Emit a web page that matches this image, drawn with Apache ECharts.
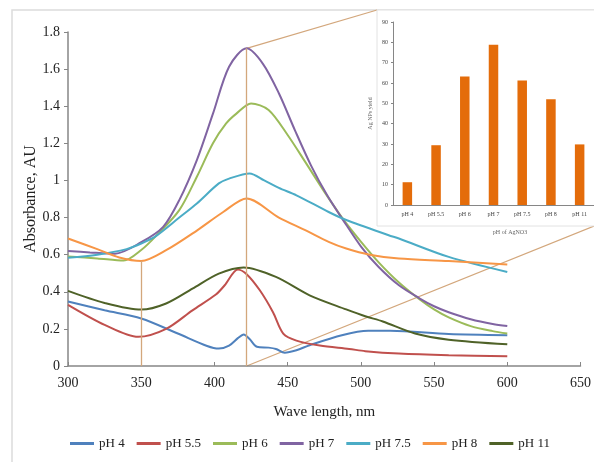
<!DOCTYPE html>
<html>
<head>
<meta charset="utf-8">
<script src="https://cdn.jsdelivr.net/npm/echarts@6/dist/echarts.min.js"></script>
<style>
  html, body { margin: 0; padding: 0; background: #fff; }
  #chart { width: 594px; height: 462px; }
</style>
</head>
<body>
<div id="chart"></div>
<script>
// absorbance spectra, [wavelength nm, absorbance AU]
const ph4 = [[300,0.348],[325,0.30],[350,0.256],[375,0.175],[395,0.108],[403,0.094],[410,0.11],[416,0.15],[420,0.17],[424,0.145],[429,0.104],[437,0.099],[442,0.092],[448,0.072],[456,0.085],[465,0.112],[487,0.166],[505,0.19],[520,0.19],[560,0.172],[600,0.166]]
const ph55 = [[300,0.33],[325,0.222],[348,0.157],[367,0.20],[385,0.30],[401,0.385],[407,0.435],[416,0.52],[422,0.495],[431,0.408],[440,0.29],[447,0.175],[456,0.137],[472,0.11],[492,0.092],[503,0.08],[526,0.067],[560,0.058],[600,0.052]]
const ph6 = [[300,0.59],[320,0.58],[338,0.568],[350,0.625],[360,0.70],[376,0.84],[388,1.02],[399,1.2],[408,1.307],[415,1.36],[425,1.415],[437,1.38],[450,1.245],[462,1.1],[475,0.94],[488,0.79],[500,0.67],[512,0.56],[526,0.45],[540,0.36],[550,0.305],[560,0.262],[575,0.215],[590,0.188],[600,0.175]]
const ph7 = [[300,0.62],[315,0.612],[332,0.605],[350,0.667],[365,0.75],[376,0.894],[388,1.11],[399,1.36],[410,1.613],[422,1.712],[433,1.63],[444,1.47],[455,1.27],[466,1.08],[477,0.92],[488,0.785],[500,0.645],[512,0.535],[526,0.435],[540,0.365],[550,0.322],[560,0.29],[575,0.252],[590,0.226],[600,0.215]]
const ph75 = [[300,0.583],[320,0.60],[340,0.63],[350,0.66],[360,0.70],[376,0.80],[388,0.876],[403,0.984],[410,1.01],[424,1.038],[434,1.0],[444,0.96],[456,0.92],[478,0.83],[490,0.787],[519,0.705],[526,0.687],[560,0.588],[600,0.507]]
const ph8 = [[300,0.687],[320,0.63],[335,0.585],[350,0.566],[367,0.624],[388,0.73],[406,0.83],[422,0.903],[444,0.80],[462,0.732],[478,0.669],[490,0.633],[506,0.60],[526,0.579],[560,0.566],[600,0.547]]
const ph11 = [[300,0.405],[325,0.34],[350,0.304],[367,0.337],[385,0.417],[403,0.498],[420,0.531],[442,0.48],[465,0.381],[490,0.305],[503,0.268],[515,0.24],[537,0.175],[560,0.142],[600,0.117]]

const seriesNames = ['pH 4', 'pH 5.5', 'pH 6', 'pH 7', 'pH 7.5', 'pH 8', 'pH 11']
const colors = ['#4f81bd', '#c0504d', '#9bbb59', '#8064a2', '#4bacc6', '#f79646', '#4f6228']
const spectra = [ph4, ph55, ph6, ph7, ph75, ph8, ph11]

// inset: yield per pH
const insetCats = ['pH 4', 'pH 5.5', 'pH 6', 'pH 7', 'pH 7.5', 'pH 8', 'pH 11']
const insetYield = [11.2, 29.4, 63.2, 78.8, 61.2, 52, 29.8]

const serif = 'Liberation Serif, Times New Roman, serif'
const tan = '#d3a77c'

const chart = echarts.init(document.getElementById('chart'))

// guide lines: at pH 8 minimum (350 nm) and at pH 7 peak
const at350 = ph8.find(p => p[0] === 350)
const peak = ph7.reduce((a, b) => (b[1] > a[1] ? b : a))

const lines = spectra.map((d, i) => ({
  name: seriesNames[i], type: 'line', data: d, smooth: 0.3,
  showSymbol: false, symbol: 'none', xAxisIndex: 0, yAxisIndex: 0,
  lineStyle: { color: colors[i], width: 2 }, itemStyle: { color: colors[i] },
  z: 3
}))

chart.setOption({
  animation: false,
  textStyle: { fontFamily: serif },
  grid: [
    { left: 68, right: 12, top: 32, bottom: 96 },
    { left: 393, right: 0, top: 22, bottom: 257 }
  ],
  legend: {
    data: seriesNames, left: 65, top: 432, width: 540, icon: 'rect',
    itemWidth: 24, itemHeight: 3, itemGap: 12,
    textStyle: { fontFamily: serif, fontSize: 13, color: '#222' }
  },
  xAxis: [
    {
      type: 'value', gridIndex: 0, min: 300, max: 650, interval: 50,
      name: 'Wave length, nm', nameLocation: 'middle', nameGap: 39, nameMoveOverlap: false,
      nameTextStyle: { fontFamily: serif, fontSize: 15, color: '#222' },
      axisLine: { lineStyle: { color: '#868686', width: 1.5 } },
      axisTick: { inside: true, length: 4, lineStyle: { color: '#868686' } },
      axisLabel: { fontFamily: serif, fontSize: 14, color: '#222', margin: 10 },
      splitLine: { show: false }
    },
    {
      type: 'category', gridIndex: 1, data: insetCats,
      name: 'pH of AgNO3', nameLocation: 'middle', nameGap: 24, nameMoveOverlap: false,
      nameTextStyle: { fontFamily: serif, fontSize: 6, color: '#666', padding: [0, 0, 0, 33] },
      axisLine: { lineStyle: { color: '#868686' } },
      axisTick: { show: false },
      axisLabel: { fontFamily: serif, fontSize: 6, color: '#444', margin: 6 }
    }
  ],
  yAxis: [
    {
      type: 'value', gridIndex: 0, min: 0, max: 1.8, interval: 0.2,
      name: 'Absorbance, AU', nameLocation: 'middle', nameGap: 29, nameMoveOverlap: false,
      nameTextStyle: { fontFamily: serif, fontSize: 16, color: '#222' },
      axisLine: { show: true, lineStyle: { color: '#868686', width: 1.5 } },
      axisTick: { show: true, length: 4, lineStyle: { color: '#868686' } },
      axisLabel: { fontFamily: serif, fontSize: 14, color: '#222', margin: 8 },
      splitLine: { show: false }
    },
    {
      type: 'value', gridIndex: 1, min: 0, max: 90, interval: 10,
      name: 'Ag NPs yield', nameLocation: 'middle', nameGap: 20, nameMoveOverlap: false,
      nameTextStyle: { fontFamily: serif, fontSize: 6, color: '#666' },
      axisLine: { show: true, lineStyle: { color: '#868686' } },
      axisTick: { show: true, length: 2, lineStyle: { color: '#868686' } },
      axisLabel: { fontFamily: serif, fontSize: 6, color: '#444', margin: 5 },
      splitLine: { show: false }
    }
  ],
  series: [
    ...lines,
    {
      name: 'guide', type: 'line', xAxisIndex: 0, yAxisIndex: 0, z: 2,
      data: [], showSymbol: false, silent: true,
      markLine: {
        symbol: 'none', silent: true, label: { show: false },
        lineStyle: { color: tan, width: 1.3, type: 'solid' },
        data: [
          [{ coord: [at350[0], 0] }, { coord: [at350[0], at350[1]] }],
          [{ coord: [peak[0], 0] }, { coord: [peak[0], peak[1]] }]
        ]
      }
    },
    {
      name: 'yield', type: 'bar', xAxisIndex: 1, yAxisIndex: 1,
      data: insetYield, barWidth: 9.5, z: 4,
      itemStyle: { color: '#e46c0a' }
    }
  ]
})

// inset frame + connectors from the pH 7 peak to the inset corners
const box = { x: 377, y: 10, width: 230, height: 216 }
const pTop = chart.convertToPixel({ gridIndex: 0 }, [peak[0], peak[1]])
const pBot = chart.convertToPixel({ gridIndex: 0 }, [peak[0], 0])

chart.setOption({
  graphic: [
    { type: 'rect', z: -2, silent: true, shape: { x: 12, y: 10, width: 600, height: 470 },
      style: { fill: 'none', stroke: '#dcdcdc', lineWidth: 1.5 } },
    { type: 'line', z: -1, silent: true,
      shape: { x1: pTop[0], y1: pTop[1], x2: box.x, y2: box.y },
      style: { stroke: tan, lineWidth: 1.3 } },
    { type: 'line', z: -1, silent: true,
      shape: { x1: pBot[0], y1: pBot[1], x2: 594, y2: box.y + box.height },
      style: { stroke: tan, lineWidth: 1.3 } },
    { type: 'rect', z: -1, silent: true, shape: box,
      style: { fill: '#fff', stroke: '#e2e2e2', lineWidth: 1 } }
  ]
})
</script>
</body>
</html>
